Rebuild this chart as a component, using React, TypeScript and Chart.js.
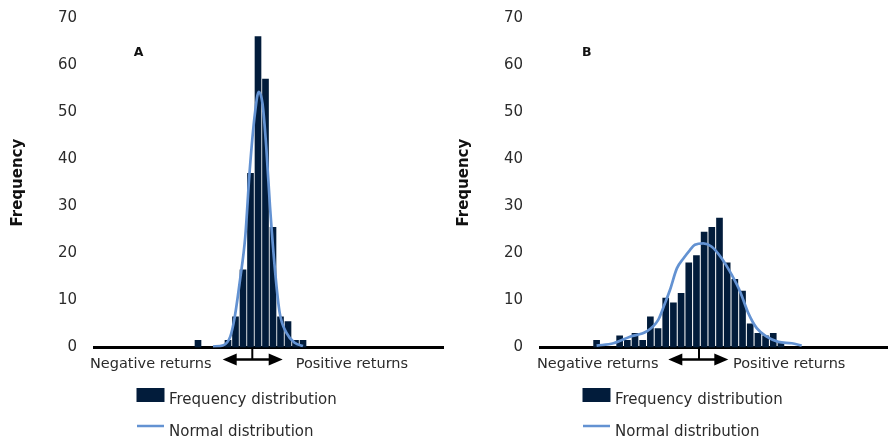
import React, { useEffect, useRef } from "react";
import { Chart, registerables } from "chart.js";
Chart.register(...registerables);

// ---- data ----
const yTicks = [0, 10, 20, 30, 40, 50, 60, 70];

// Panel A: histogram bins (bin index) and frequencies
const binsA = [14, 18, 19, 20, 21, 22, 23, 24, 25, 26, 27, 28];
const freqA = [1.5, 1.5, 6.5, 16.5, 37, 66, 57, 25.5, 6.5, 5.5, 1.5, 1.5];
// Panel A: fitted normal curve
const normXA = [16.0, 17.4, 18.3, 18.9, 19.6, 20.3, 20.9, 21.6, 22.1, 22.6, 23.1, 23.6, 24.3, 24.9, 25.8, 26.9, 28.0];
const normYA = [0.2, 0.5, 2.3, 6.5, 14.3, 23.5, 37.7, 49.8, 54.3, 51.8, 42.6, 29.9, 15.8, 7.3, 3.1, 1.0, 0.3];

// Panel B
const binsB = [7, 10, 11, 12, 13, 14, 15, 16, 17, 18, 19, 20, 21, 22, 23, 24, 25, 26, 27, 28, 29, 30, 31];
const freqB = [1.5, 2.5, 1.5, 3, 1.5, 6.5, 4, 10.5, 9.5, 11.5, 18, 19.5, 24.5, 25.5, 27.5, 18, 14.5, 12, 5, 3, 2.5, 3, 1];
const normXB = [7.0, 9.2, 11.35, 13.5, 15.0, 15.9, 16.55, 17.45, 18.3, 19.15, 19.8, 20.9, 22.0, 23.3, 24.6, 25.7, 26.75, 27.85, 29.15, 30.65, 32.4, 33.7];
const normYB = [0.4, 0.9, 2.3, 3.4, 5.8, 9.4, 12.2, 16.8, 18.9, 20.7, 21.8, 22.1, 21.4, 18.9, 15.4, 11.8, 7.3, 4.1, 2.3, 1.2, 0.9, 0.4];

const labelsText = {
  neg: "Negative returns",
  pos: "Positive returns",
  freq: "Frequency distribution",
  norm: "Normal distribution",
  yTitle: "Frequency",
};

const NAVY = "#021c3b";
const BLUE = "#6392d2";
const TEXT = "#2b2b2b";
const FONT = "'DejaVu Sans', sans-serif";

type PanelCfg = {
  letter: string;
  bins: number[];
  freq: number[];
  nx: number[];
  ny: number[];
  xmin: number;
  xmax: number;
  canvasLeft: number;
  canvasWidth: number;
  letterX: number;
  arrowL: number;
  arrowR: number;
  stemX: number;
  negX: number;
  posX: number;
};

function decorPlugin(p: PanelCfg) {
  return {
    id: "decor",
    beforeDatasetsDraw(chart: any) {
      const { ctx, chartArea, scales } = chart;
      const y0 = scales.y.getPixelForValue(0);
      ctx.save();
      ctx.strokeStyle = "#000";
      ctx.lineWidth = 3;
      ctx.beginPath();
      ctx.moveTo(chartArea.left, y0);
      ctx.lineTo(chartArea.right, y0);
      ctx.stroke();
      ctx.restore();
    },
    afterDraw(chart: any) {
      const { ctx, scales } = chart;
      const y0 = scales.y.getPixelForValue(0);
      ctx.save();
      // panel letter
      ctx.fillStyle = "#111";
      ctx.font = `bold 12.5px ${FONT}`;
      ctx.textAlign = "center";
      ctx.textBaseline = "alphabetic";
      ctx.fillText(p.letter, p.letterX, 56);

      // arrow
      const ay = 359.5;
      ctx.strokeStyle = "#000";
      ctx.fillStyle = "#000";
      ctx.lineWidth = 2;
      ctx.beginPath();
      ctx.moveTo(p.stemX, y0);
      ctx.lineTo(p.stemX, ay);
      ctx.stroke();
      ctx.lineWidth = 2.5;
      ctx.beginPath();
      ctx.moveTo(p.arrowL + 10, ay);
      ctx.lineTo(p.arrowR - 10, ay);
      ctx.stroke();
      const hl = 14, hh = 6;
      ctx.beginPath();
      ctx.moveTo(p.arrowL, ay);
      ctx.lineTo(p.arrowL + hl, ay - hh);
      ctx.lineTo(p.arrowL + hl, ay + hh);
      ctx.closePath();
      ctx.fill();
      ctx.beginPath();
      ctx.moveTo(p.arrowR, ay);
      ctx.lineTo(p.arrowR - hl, ay - hh);
      ctx.lineTo(p.arrowR - hl, ay + hh);
      ctx.closePath();
      ctx.fill();

      // axis texts
      ctx.fillStyle = TEXT;
      ctx.font = `14.5px ${FONT}`;
      ctx.textAlign = "left";
      ctx.fillText(labelsText.neg, p.negX, 367.5);
      ctx.fillText(labelsText.pos, p.posX, 367.5);

      // legend
      ctx.fillStyle = NAVY;
      ctx.fillRect(136.5, 388, 28, 14);
      ctx.strokeStyle = BLUE;
      ctx.lineWidth = 2.5;
      ctx.beginPath();
      ctx.moveTo(137, 426);
      ctx.lineTo(164, 426);
      ctx.stroke();
      ctx.fillStyle = TEXT;
      ctx.font = `15px ${FONT}`;
      ctx.fillText(labelsText.freq, 169, 403.5);
      ctx.fillText(labelsText.norm, 169, 435.5);
      ctx.restore();
    },
  };
}

function Panel({ p }: { p: PanelCfg }) {
  const ref = useRef<HTMLCanvasElement>(null);
  useEffect(() => {
    const chart = new Chart(ref.current as HTMLCanvasElement, {
      type: "line",
      data: {
        datasets: [
          {
            type: "line",
            label: labelsText.norm,
            data: p.nx.map((x, i) => ({ x, y: p.ny[i] })),
            borderColor: BLUE,
            borderWidth: 2.7,
            pointRadius: 0,
            cubicInterpolationMode: "monotone",
            order: 0,
          } as any,
          {
            type: "bar",
            label: labelsText.freq,
            data: p.bins.map((x, i) => ({ x, y: p.freq[i] })),
            backgroundColor: NAVY,
            barThickness: 6,
            order: 1,
          } as any,
        ],
      },
      options: {
        animation: false,
        responsive: false,
        devicePixelRatio: 1,
        layout: { padding: { left: 5.5, top: 17.8, right: 0, bottom: 90.5 } },
        plugins: { legend: { display: false }, tooltip: { enabled: false } },
        scales: {
          x: {
            type: "linear",
            min: p.xmin,
            max: p.xmax,
            offset: false,
            bounds: "data",
            display: false,
            grid: { offset: false },
          },
          y: {
            min: 0,
            max: 70,
            afterBuildTicks: (s: any) => {
              s.ticks = yTicks.map((v) => ({ value: v }));
            },
            afterFit: (s: any) => {
              s.width = 87.5;
            },
            ticks: { font: { family: FONT, size: 15 }, color: TEXT, padding: 0 },
            grid: { display: false, drawTicks: true, tickLength: 16 },
            border: { display: false },
            title: {
              display: true,
              text: labelsText.yTitle,
              font: { family: FONT, size: 15, weight: "bold" },
              color: "#111",
              padding: { top: 4, bottom: 0 },
            },
          },
        },
      } as any,
      plugins: [decorPlugin(p)],
    });
    return () => chart.destroy();
  }, []);
  return (
    <canvas
      ref={ref}
      width={p.canvasWidth}
      height={438}
      style={{ position: "absolute", left: p.canvasLeft, top: 0, width: p.canvasWidth, height: 438 }}
    />
  );
}

const panelA: PanelCfg = {
  letter: "A",
  bins: binsA,
  freq: freqA,
  nx: normXA,
  ny: normYA,
  xmin: 0,
  xmax: 46.8,
  canvasLeft: 0,
  canvasWidth: 444,
  letterX: 138.5,
  arrowL: 222.7,
  arrowR: 282.7,
  stemX: 252.3,
  negX: 90,
  posX: 295.7,
};

const panelB: PanelCfg = {
  letter: "B",
  bins: binsB,
  freq: freqB,
  nx: normXB,
  ny: normYB,
  xmin: -0.5,
  xmax: 44.94,
  canvasLeft: 446,
  canvasWidth: 442,
  letterX: 140.7,
  arrowL: 222.3,
  arrowR: 282.3,
  stemX: 253,
  negX: 91,
  posX: 287,
};

export default function App() {
  return (
    <div style={{ position: "absolute", left: 0, top: 0, width: 888, height: 438, background: "#fff", overflow: "hidden" }}>
      <Panel p={panelA} />
      <Panel p={panelB} />
    </div>
  );
}
